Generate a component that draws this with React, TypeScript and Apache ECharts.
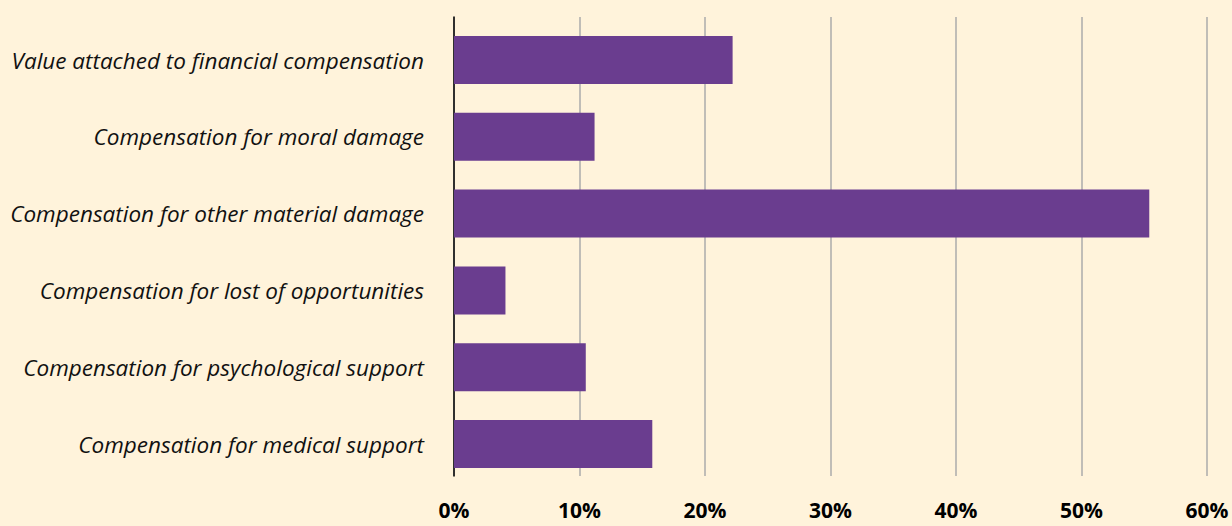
import React, { useEffect, useRef } from "react";
import * as echarts from "echarts";

const categories = [
  "Value attached to financial compensation",
  "Compensation for moral damage",
  "Compensation for other material damage",
  "Compensation for lost of opportunities",
  "Compensation for psychological support",
  "Compensation for medical support",
];
const values = [22.2, 11.2, 55.4, 4.1, 10.5, 15.8];
const xTicks = [0, 10, 20, 30, 40, 50, 60];

export default function App() {
  const ref = useRef<HTMLDivElement>(null);
  useEffect(() => {
    if (!ref.current) return;
    const chart = echarts.init(ref.current, null, { renderer: "svg" });
    const cats = categories.slice().reverse();
    const vals = values.slice().reverse();
    chart.setOption({
      animation: false,
      backgroundColor: "#FFF3DB",
      grid: [
        { left: 454, right: 25, top: 17, bottom: 50, containLabel: false },
        { left: 454, right: 25, top: 21.6, bottom: 43.6, containLabel: false },
      ],
      xAxis: [
        {
          type: "value",
          gridIndex: 0,
          min: xTicks[0],
          max: xTicks[xTicks.length - 1],
          interval: 10,
          axisLine: { show: false },
          axisTick: { show: false },
          splitLine: { show: true, lineStyle: { color: "#ABABAB", width: 1.5 } },
          axisLabel: {
            formatter: "{value}%",
            color: "#000",
            fontFamily: "Open Sans",
            fontWeight: "bold",
            fontSize: 21,
            margin: 23,
          },
        },
        {
          type: "value",
          gridIndex: 1,
          min: xTicks[0],
          max: xTicks[xTicks.length - 1],
          show: false,
        },
      ],
      yAxis: [
        {
          type: "category",
          gridIndex: 0,
          data: cats,
          axisLine: { show: true, lineStyle: { color: "#000", width: 1.5 } },
          axisTick: { show: false },
          axisLabel: { show: false },
          splitLine: { show: false },
        },
        {
          type: "category",
          gridIndex: 1,
          data: cats,
          axisLine: { show: false },
          axisTick: { show: false },
          axisLabel: {
            color: "#111",
            fontFamily: "Open Sans",
            fontStyle: "italic",
            fontSize: 22.5,
            margin: 30,
          },
        },
      ],
      series: [
        {
          type: "bar",
          xAxisIndex: 1,
          yAxisIndex: 1,
          data: vals,
          barWidth: 48,
          itemStyle: { color: "#6A3D8F" },
        },
      ],
    });
    return () => chart.dispose();
  }, []);
  return <div ref={ref} style={{ width: 1232, height: 526, position: "absolute", left: 0, top: 0 }} />;
}
